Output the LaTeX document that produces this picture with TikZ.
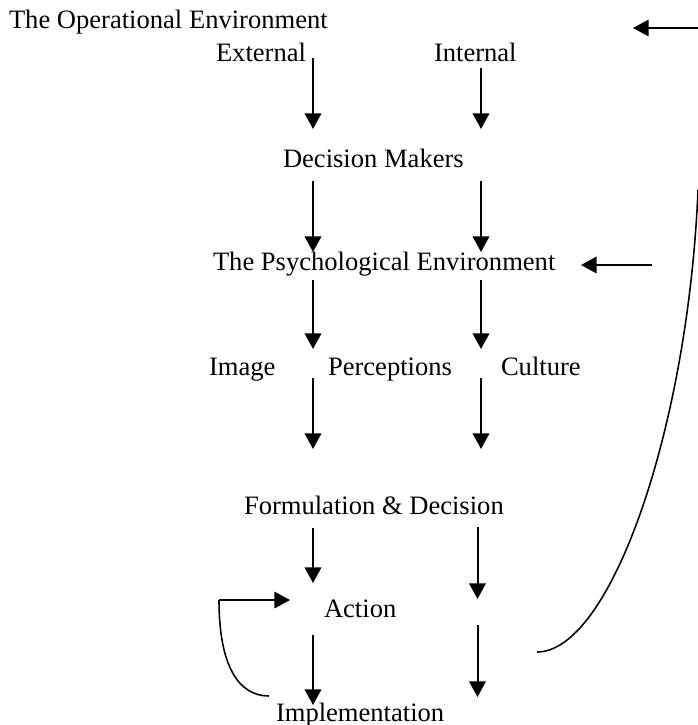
\documentclass[tikz,border=0pt]{standalone}
\usepackage{fontspec}
\setmainfont{Liberation Serif}
\usetikzlibrary{arrows.meta}

\begin{document}
\begin{tikzpicture}[->, x=0.45bp, y=-0.45bp, line width=0.9bp, >={Triangle[length=7bp, width=7.4bp]},
    every node/.style={inner sep=0pt, anchor=base west, font=\fontsize{12}{14}\selectfont}]
    \useasboundingbox (0,0) rectangle (698,725);

    \node (op) at (8,29) {The Operational Environment};
    \node (ext) at (215,62) {External};
    \node (int) at (433,62) {Internal};
    \node (dm) at (282,167) {Decision Makers};
    \node (psy) at (212,270) {The Psychological Environment};
    \node (img) at (208,375) {Image};
    \node (per) at (327,375) {Perceptions};
    \node (cul) at (500,375) {Culture};
    \node (fd) at (243,514) {Formulation \& Decision};
    \node (act) at (323,617) {Action};
    \node (imp) at (275,721) {Implementation};

    \coordinate (l1) at (313,58);
    \coordinate (l2) at (313,129);
    \coordinate (l3) at (313,181);
    \coordinate (l4) at (313,252);
    \coordinate (l5) at (313,280);
    \coordinate (l6) at (313,349);
    \coordinate (l7) at (313,378);
    \coordinate (l8) at (313,449);
    \coordinate (l9) at (313,528);
    \coordinate (l10) at (313,583);
    \coordinate (l11) at (313,635);
    \coordinate (l12) at (313,705);

    \coordinate (r1) at (481,68);
    \coordinate (r2) at (481,129);
    \coordinate (r3) at (481,181);
    \coordinate (r4) at (481,252);
    \coordinate (r5) at (481,280);
    \coordinate (r6) at (481,349);
    \coordinate (r7) at (481,378);
    \coordinate (r8) at (481,449);
    \coordinate (r9) at (477.5,527);
    \coordinate (r10) at (477.5,599);
    \coordinate (r11) at (477.5,625);
    \coordinate (r12) at (477.5,697);

    \coordinate (top1) at (698,28);
    \coordinate (top2) at (633,28);
    \coordinate (mid1) at (652,265);
    \coordinate (mid2) at (581,265);
    \coordinate (loop1) at (219,600);
    \coordinate (loop2) at (290,600);
    \coordinate (loop3) at (269,696);
    \coordinate (back1) at (537,652);
    \coordinate (back2) at (698,190);

    \draw (l1) -- (l2);
    \draw (l3) -- (l4);
    \draw (l5) -- (l6);
    \draw (l7) -- (l8);
    \draw (l9) -- (l10);
    \draw (l11) -- (l12);
    \draw (r1) -- (r2);
    \draw (r3) -- (r4);
    \draw (r5) -- (r6);
    \draw (r7) -- (r8);
    \draw (r9) -- (r10);
    \draw (r11) -- (r12);

    \draw (top1) -- (top2);
    \draw (mid1) -- (mid2);
    \draw (loop1) -- (loop2);
    \draw[-, line width=0.7bp] (loop1) .. controls (219,665) and (238,696) .. (loop3);
    \draw[-, line width=0.7bp] (back1) .. controls (610,652) and (688,430) .. (back2);
\end{tikzpicture}
\end{document}
